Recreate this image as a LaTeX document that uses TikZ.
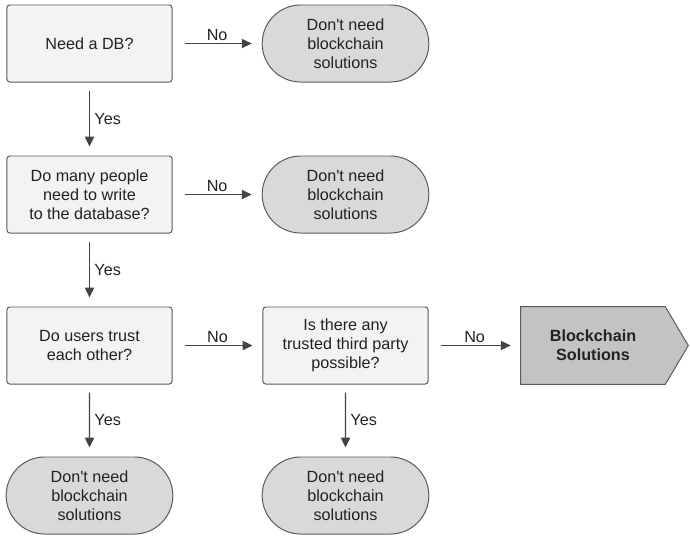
\documentclass[tikz,border=0pt]{standalone}
\usepackage{fontspec}
\setmainfont{Liberation Sans}
\usetikzlibrary{arrows.meta,shapes.misc,backgrounds}

\definecolor{boxgray}{HTML}{F3F3F3}
\definecolor{endgray}{HTML}{D9D9D9}
\definecolor{solgray}{HTML}{C3C3C3}
\definecolor{edgegray}{HTML}{5A5A5A}
\definecolor{arrgray}{HTML}{444444}
\definecolor{txt}{HTML}{222222}

\newcommand{\nochain}{Don\textquotesingle t need\\blockchain\\solutions}

\tikzset{
	question/.style={draw=edgegray, fill=boxgray, line width=0.7pt, rounded corners=2pt,
		minimum width=4.125cm, minimum height=1.925cm, align=center, text=txt,
		font=\fontsize{11.5}{13.6}\selectfont},
	nope/.style={draw=edgegray, fill=endgray, line width=0.7pt, rounded rectangle,
		minimum width=4.4cm, minimum height=1.925cm, align=center, text=txt,
		font=\fontsize{11.5}{13.6}\selectfont},
	answer/.style={minimum width=3.6cm, minimum height=1.925cm,
		align=center, text=txt, font=\fontsize{11.5}{13.6}\selectfont\bfseries},
	flow/.style={draw=arrgray, line width=1.05pt, -{Triangle[length=7pt,width=6.5pt]}},
	across/.style={flow, shorten <=0.3cm, shorten >=0.25cm},
	down/.style={flow, shorten <=0.2cm, shorten >=0.225cm},
	lbl/.style={text=txt, inner sep=1.5pt, font=\fontsize{11.5}{13.6}\selectfont}
}

\begin{document}
\begin{tikzpicture}[x=0.025cm, y=-0.025cm]
			%%%%% START %%%%%
			\useasboundingbox (0, 0) rectangle (690, 535);
			
			\node[question] (db) at (89.5, 43.5) {Need a DB?};
			\node[nope] (nodb) at (345.5, 43.5) {\nochain};
			
			\node[question] (write) at (89.5, 194.5) {Do many people\\need to write\\to the database?};
			\node[nope] (nowrite) at (345.5, 194.5) {\nochain};
			
			\node[question] (trust) at (89.5, 345.5) {Do users trust\\each other?};
			\node[question] (third) at (345.5, 345.5) {Is there any\\trusted third party\\possible?};
			\node[answer] (chain) at (593, 345.5) {Blockchain\\Solutions};
			\begin{scope}[on background layer]
				\draw[draw=edgegray, fill=solgray, line width=0.7pt] (chain.north west) -- (chain.north east)
					-- ([xshift=0.575cm]chain.east) -- (chain.south east) -- (chain.south west) -- cycle;
			\end{scope}
			
			\node[nope] (trusted) at (89.5, 495.5) {\nochain};
			\node[nope] (party) at (345.5, 495.5) {\nochain};
			
			\draw[across] (db) -- node[lbl, above] {No} (nodb);
			\draw[down] (db) -- node[lbl, right, inner sep=3pt] {Yes} (write);
			
			\draw[across] (write) -- node[lbl, above] {No} (nowrite);
			\draw[down] (write) -- node[lbl, right, inner sep=3pt] {Yes} (trust);
			
			\draw[across] (trust) -- node[lbl, above] {No} (third);
			\draw[across] (third) -- node[lbl, above] {No} (chain);
			
			\draw[down] (trust) -- node[lbl, right, inner sep=3pt] {Yes} (trusted);
			\draw[down] (third) -- node[lbl, right, inner sep=3pt] {Yes} (party);
			%%%%% END %%%%%
\end{tikzpicture}
\end{document}
